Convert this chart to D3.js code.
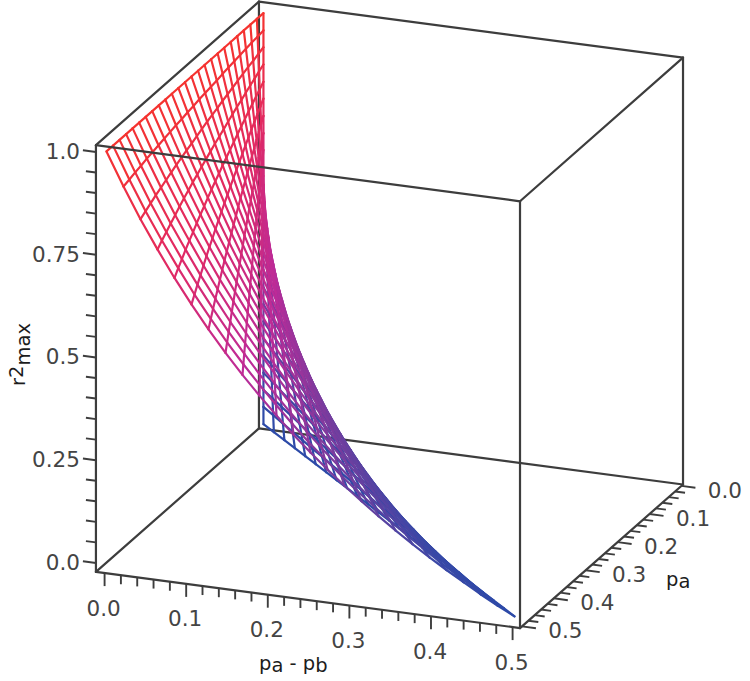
<!DOCTYPE html>
<html>
<head>
<meta charset="utf-8">
<script src="https://cdn.jsdelivr.net/npm/d3@7/dist/d3.min.js"></script>
<style>html,body{margin:0;padding:0;background:#fff}svg{display:block}</style>
</head>
<body>
<svg id="chart" width="750" height="681"></svg>
<script>
// Axis ticks
const diffTicks = [0, 0.1, 0.2, 0.3, 0.4, 0.5];
const paTicks = [0, 0.1, 0.2, 0.3, 0.4, 0.5];
const r2Ticks = [0, 0.25, 0.5, 0.75, 1];
const diffTickLabels = ["0.0", "0.1", "0.2", "0.3", "0.4", "0.5"];
const paTickLabels = ["0.0", "0.1", "0.2", "0.3", "0.4", "0.5"];
const r2TickLabels = ["0.0", "0.25", "0.5", "0.75", "1.0"];

const paValues = [0.008,0.0285,0.049,0.0695,0.09,0.1105,0.131,0.1515,0.172,0.1925,0.213,0.2335,0.254,0.2745,0.295,0.3155,0.336,0.3565,0.377,0.3975,0.418,0.4385,0.459,0.4795,0.5];
// Largest pa - pb reached on each constant-pa line (where it meets the lower edge).
const diffEnd = [0,0.0208,0.0417,0.0625,0.0833,0.1042,0.125,0.1458,0.1667,0.1875,0.2083,0.2292,0.25,0.2708,0.2917,0.3125,0.3333,0.3542,0.375,0.3958,0.4167,0.4375,0.4583,0.4792,0.5];
// Share of diffEnd reached at each of the 25 nodes along a line (lower edge to top edge).
const diffShare = [1,0.9583,0.9167,0.875,0.8333,0.7917,0.75,0.7083,0.6667,0.625,0.5833,0.5417,0.5,0.4583,0.4167,0.375,0.3333,0.2917,0.25,0.2083,0.1667,0.125,0.0833,0.0417,0];
// r2max at each node. Outer edges and open-mesh nodes were read from the picture; nodes in the
// dense inner region are estimates from a smooth curve family fitted to those readings.
const r2max = [
[0,.042,.083,.125,.167,.208,.25,.292,.333,.375,.417,.458,.5,.542,.583,.625,.667,.708,.75,.792,.833,.875,.917,.958,1],
[0,.041,.082,.123,.164,.205,.246,.287,.329,.370,.412,.453,.495,.536,.578,.620,.662,.704,.746,.788,.830,.873,.915,.957,1],
[0,.040,.080,.120,.161,.201,.242,.283,.324,.365,.406,.448,.489,.531,.573,.615,.657,.699,.742,.785,.827,.870,.913,.957,1],
[0,.039,.079,.118,.158,.198,.238,.279,.319,.360,.401,.442,.484,.526,.568,.610,.652,.695,.738,.781,.824,.868,.912,.956,1],
[0,.038,.077,.116,.155,.194,.234,.274,.314,.355,.396,.437,.478,.520,.562,.604,.647,.690,.733,.777,.821,.865,.910,.955,1],
[0,.037,.075,.113,.152,.191,.230,.269,.309,.350,.390,.431,.473,.514,.556,.599,.642,.685,.729,.773,.817,.862,.908,.954,1],
[0,.037,.074,.111,.149,.187,.226,.265,.304,.344,.385,.425,.467,.508,.551,.593,.636,.680,.724,.769,.814,.860,.906,.953,1],
[0,.036,.072,.109,.146,.184,.222,.260,.299,.339,.379,.420,.461,.502,.545,.587,.631,.675,.719,.764,.810,.857,.904,.952,1],
[0,.035,.070,.106,.143,.180,.217,.255,.294,.333,.373,.414,.455,.496,.538,.581,.625,.669,.714,.760,.806,.854,.902,.950,1],
[0,.034,.069,.104,.140,.176,.213,.251,.289,.328,.367,.407,.448,.490,.532,.575,.619,.664,.709,.755,.802,.850,.899,.949,1],
[0,.033,.067,.102,.137,.172,.209,.246,.284,.322,.361,.401,.442,.483,.526,.569,.613,.658,.704,.751,.798,.847,.897,.948,1],
[0,.032,.065,.099,.134,.169,.204,.241,.278,.316,.355,.395,.435,.477,.519,.562,.607,.652,.698,.745,.794,.844,.895,.947,1],
[0,.032,.064,.097,.130,.165,.200,.236,.273,.310,.349,.388,.429,.470,.512,.556,.600,.646,.692,.740,.789,.840,.892,.945,1],
[0,.031,.062,.094,.127,.161,.196,.231,.267,.304,.342,.382,.422,.463,.505,.549,.593,.639,.686,.735,.785,.836,.889,.944,1],
[0,.030,.060,.092,.124,.157,.191,.226,.262,.298,.336,.375,.415,.456,.498,.541,.586,.632,.680,.729,.780,.832,.886,.942,1],
[0,.029,.059,.089,.121,.153,.186,.221,.256,.292,.329,.368,.407,.448,.490,.534,.579,.625,.673,.723,.775,.828,.883,.941,1],
[0,.028,.057,.087,.118,.149,.182,.215,.250,.286,.323,.361,.400,.441,.483,.526,.571,.618,.667,.717,.769,.824,.880,.939,1],
[0,.027,.055,.084,.114,.145,.177,.210,.244,.279,.316,.353,.392,.433,.475,.518,.564,.611,.660,.710,.764,.819,.877,.937,1],
[0,.026,.054,.082,.111,.141,.172,.205,.238,.273,.309,.346,.385,.425,.467,.510,.556,.603,.652,.704,.758,.814,.873,.935,1],
[0,.026,.052,.079,.108,.137,.168,.199,.232,.266,.301,.338,.377,.417,.458,.502,.547,.595,.644,.697,.751,.809,.869,.933,1],
[0,.025,.050,.077,.104,.133,.163,.194,.226,.259,.294,.330,.368,.408,.450,.493,.538,.586,.636,.689,.745,.803,.865,.931,1],
[0,.024,.049,.074,.101,.129,.158,.188,.220,.252,.287,.322,.360,.399,.441,.484,.529,.577,.628,.681,.738,.797,.861,.928,1],
[0,.023,.047,.072,.098,.125,.153,.182,.213,.245,.279,.314,.351,.390,.431,.474,.520,.568,.619,.673,.730,.791,.856,.926,1],
[0,.022,.045,.069,.094,.121,.148,.177,.207,.238,.271,.306,.342,.381,.422,.465,.510,.558,.610,.664,.723,.785,.851,.923,1],
[0,.021,.043,.067,.091,.116,.143,.171,.200,.231,.263,.297,.333,.371,.412,.455,.500,.548,.600,.655,.714,.778,.846,.920,1]
];

// Box extent in data units
const diffBox = [-0.0106, 0.5091];
const paBox = [-0.005, 0.506];
const r2Box = [-0.0219, 1.0165];

// Oblique projection built from linear scales
const anchor = [106.5, 562.4];
const diffToX = d3.scaleLinear().domain([0, 0.5]).range([0, 408]);
const diffToY = d3.scaleLinear().domain([0, 0.5]).range([0, 54]);
const paToX = d3.scaleLinear().domain([0.5, 0]).range([0, 159.5]);
const paToY = d3.scaleLinear().domain([0.5, 0]).range([0, -140.5]);
const r2ToY = d3.scaleLinear().domain([0, 1]).range([0, -411]);
const project = (d, p, z) => [
  anchor[0] + diffToX(d) + paToX(p),
  anchor[1] + diffToY(d) + paToY(p) + r2ToY(z)
];

const colour = d3.scaleLinear()
  .domain([0, 0.1, 0.25, 0.5, 0.75, 1])
  .range(["#2c4aa8", "#3a48a6", "#6d3f9f", "#bd2b98", "#e22a62", "#f5332f"]);

const svg = d3.select("#chart");
const ink = "#3d3d3d";
const font = "'DejaVu Sans', sans-serif";

function edges(g, list) {
  g.selectAll("line").data(list).join("line")
    .attr("x1", e => e[0][0]).attr("y1", e => e[0][1])
    .attr("x2", e => e[1][0]).attr("y2", e => e[1][1])
    .attr("stroke", ink).attr("stroke-width", 2.2).attr("stroke-linecap", "round");
}
const [dL, dH] = diffBox, [pL, pH] = paBox, [zL, zH] = r2Box;

// Back edges, beneath the mesh
edges(svg.append("g"), [
  [project(dL, pL, zL), project(dL, pL, zH)],
  [project(dL, pL, zL), project(dL, pH, zL)],
  [project(dL, pL, zL), project(dH, pL, zL)]
]);

// Mesh, one short segment per pair of neighbouring nodes
const nodes = r2max.map((row, j) => row.map((z, n) => ({
  z, pt: project(diffShare[n] * diffEnd[j], paValues[j], z)
})));
const segments = [];
nodes.forEach((row, j) => row.forEach((nd, n) => {
  if (n < row.length - 1) segments.push([nd, row[n + 1]]);
  if (j < nodes.length - 1) segments.push([nd, nodes[j + 1][n]]);
}));
segments.sort((a, b) => (a[0].z + a[1].z) - (b[0].z + b[1].z));
svg.append("g").selectAll("line").data(segments).join("line")
  .attr("x1", s => s[0].pt[0]).attr("y1", s => s[0].pt[1])
  .attr("x2", s => s[1].pt[0]).attr("y2", s => s[1].pt[1])
  .attr("stroke", s => colour((s[0].z + s[1].z) / 2))
  .attr("stroke-width", 2.2).attr("stroke-linecap", "round");

// Front edges, above the mesh
edges(svg.append("g"), [
  [project(dL, pH, zL), project(dH, pH, zL)],
  [project(dH, pH, zL), project(dH, pL, zL)],
  [project(dL, pH, zL), project(dL, pH, zH)],
  [project(dH, pH, zL), project(dH, pH, zH)],
  [project(dH, pL, zL), project(dH, pL, zH)],
  [project(dL, pH, zH), project(dH, pH, zH)],
  [project(dH, pH, zH), project(dH, pL, zH)],
  [project(dH, pL, zH), project(dL, pL, zH)],
  [project(dL, pL, zH), project(dL, pH, zH)]
]);

// Tick marks
const ticksG = svg.append("g").attr("stroke", ink).attr("stroke-width", 1.9);
function tick(start, dx, dy) {
  ticksG.append("line").attr("x1", start[0]).attr("y1", start[1])
    .attr("x2", start[0] + dx).attr("y2", start[1] + dy);
}
d3.range(0, 26).forEach(i => {
  const d = i / 50, major = i % 5 === 0;
  tick(project(d, pH, zL), 0, major ? 13 : 9);
});
d3.range(0, 26).forEach(i => {
  const p = i / 50, major = i % 5 === 0;
  tick(project(dH, p, zL), major ? 14 : 10, major ? 1.9 : 1.3);
});
d3.range(0, 21).forEach(i => {
  const z = i / 20, major = i % 5 === 0;
  tick(project(dL, pH, z), major ? -13 : -10, major ? -1.7 : -1.3);
});

// Tick labels
function label(txt, x, y, anchorName) {
  svg.append("text").text(txt).attr("x", x).attr("y", y)
    .attr("text-anchor", anchorName || "middle").attr("dominant-baseline", "central")
    .attr("font-family", font).attr("font-size", 21.5).attr("fill", "#444");
}
r2Ticks.forEach((z, i) => {
  const pt = project(dL, pH, z);
  label(r2TickLabels[i], pt[0] - 16, pt[1] - 0.5, "end");
});
diffTicks.forEach((d, i) => {
  const pt = project(d, pH, zL);
  label(diffTickLabels[i], pt[0] - 1, pt[1] + 35);
});
paTicks.forEach((p, i) => {
  const pt = project(dH, p, zL);
  label(paTickLabels[i], pt[0] + 43.5, pt[1] + 4.5);
});

// Axis titles
function title(sel) {
  return sel.attr("font-family", font).attr("font-size", 19.5).attr("fill", "#1c1c1c");
}
const tD = title(svg.append("text")).attr("x", 259).attr("y", 670);
tD.append("tspan").text("p");
tD.append("tspan").text("a").attr("dy", 1.5);
tD.append("tspan").text(" - p").attr("dy", -1.5);
tD.append("tspan").text("b").attr("dy", 1.5);

const tP = title(svg.append("text")).attr("x", 666).attr("y", 586);
tP.append("tspan").text("p");
tP.append("tspan").text("a").attr("dy", 1.5);

const tR = title(svg.append("text")).attr("transform", "translate(25,386) rotate(-90)");
tR.append("tspan").text("r");
tR.append("tspan").text("2").attr("dy", -2);
tR.append("tspan").text("max").attr("dy", 7);
</script>
</body>
</html>
